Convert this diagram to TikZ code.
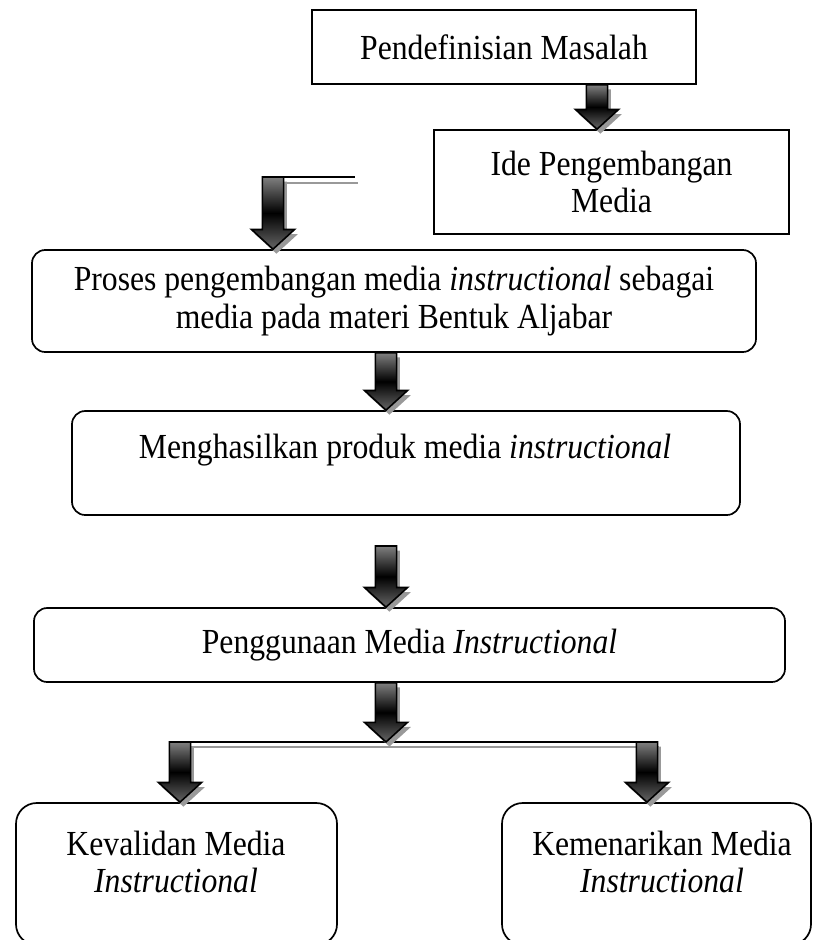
\documentclass[tikz,border=0pt]{standalone}
\usepackage{fontspec}
\setmainfont{Liberation Serif}[FakeStretch=0.9]
\usetikzlibrary{calc}
\newcommand{\pxl}{0.2646mm}
\newcommand{\ArrowOutline}[3]{({#1-2.8mm},{#2}) -- ({#1+2.8mm},{#2}) -- ({#1+2.8mm},{#3+5.2mm})
  -- ({#1+5.7mm},{#3+5.2mm}) -- ({#1},{#3}) -- ({#1-5.7mm},{#3+5.2mm}) -- ({#1-2.8mm},{#3+5.2mm}) -- cycle}
\newcommand{\BlockArrow}[2]{%
  \fill[black!40] let \p1=(#1), \p2=(#2) in \ArrowOutline{\x1+0.9mm}{\y1-1.2mm}{\y2-1.2mm};
  \draw[blockarrow] let \p1=(#1), \p2=(#2) in \ArrowOutline{\x1}{\y1}{\y2};
}
\tikzset{
  box/.style={draw, line width=0.45mm, align=center, inner sep=0pt},
  roundbox/.style={box, rounded corners=3.5mm},
  bigbox/.style={box, rounded corners=5.5mm},
  teks/.style={align=center},
  blockarrow/.style={draw=black, line width=0.42mm, top color=black!50, bottom color=black!60, middle color=black},
  garis/.style={draw=black, line width=0.45mm},
  garisbayang/.style={draw=black!40, line width=0.5mm}
}

\begin{document}
\begin{tikzpicture}[x=0.2646mm, y=-0.2646mm, font=\fontsize{26.5}{28}\selectfont]
    \useasboundingbox (0,0) rectangle (813,940);

    \node (masalah) [box, minimum width={384*\pxl}, minimum height={74*\pxl}] at (504,47)
      {Pendefinisian Masalah};
    \node (ide) [box, minimum width={355*\pxl}, minimum height={104*\pxl}] at (611.5,182)
      {Ide Pengembangan\\Media};
    \node (proses) [roundbox, minimum width={724*\pxl}, minimum height={102*\pxl}] at (394,301)
      {Proses pengembangan media \textit{instructional} sebagai\\media pada materi Bentuk Aljabar};
    \node (produk) [roundbox, minimum width={668*\pxl}, minimum height={104*\pxl}] at (406,463) {};
    \node (produkteks) at (405,450) {Menghasilkan produk media \textit{instructional}};
    \node (guna) [roundbox, minimum width={751*\pxl}, minimum height={74*\pxl}] at (409.5,645)
      {Penggunaan Media \textit{Instructional}};
    \node (valid) [bigbox, minimum width={321*\pxl}, minimum height={142*\pxl}] at (176.5,874) {};
    \node (validteks) [teks] at (176,862) {Kevalidan Media\\\textit{Instructional}};
    \node (menarik) [bigbox, minimum width={309*\pxl}, minimum height={142*\pxl}] at (656.5,874) {};
    \node (menarikteks) [teks] at (662,862) {Kemenarikan Media\\\textit{Instructional}};

    \coordinate (garisKiri) at (273,177);
    \coordinate (garisKanan) at (355,177);
    \coordinate (kolom) at (386,0);
    \coordinate (awalGuna) at (386,546);
    \coordinate (cabangKiri) at (180,742);
    \coordinate (cabangKanan) at (647,742);

    % garis bertingkat
    \draw[garisbayang] ($(garisKiri)+(14,6)$) -- ($(garisKanan)+(3,6)$);
    \draw[garis] (garisKiri) -- (garisKanan);
    \draw[garisbayang] ($(cabangKiri)+(-6,5)$) -- ($(cabangKanan)+(12,5)$);
    \draw[garis] ($(cabangKiri)+(-10,0)$) -- ($(cabangKanan)+(10,0)$);

    % panah blok
    \BlockArrow{$(masalah.south)+(93,0)$}{ide.north}
    \BlockArrow{garisKiri}{proses.north}
    \BlockArrow{kolom |- proses.south}{produk.north}
    \BlockArrow{awalGuna}{guna.north}
    \BlockArrow{kolom |- guna.south}{cabangKiri}
    \BlockArrow{cabangKiri}{valid.north}
    \BlockArrow{cabangKanan}{menarik.north}
\end{tikzpicture}
\end{document}
